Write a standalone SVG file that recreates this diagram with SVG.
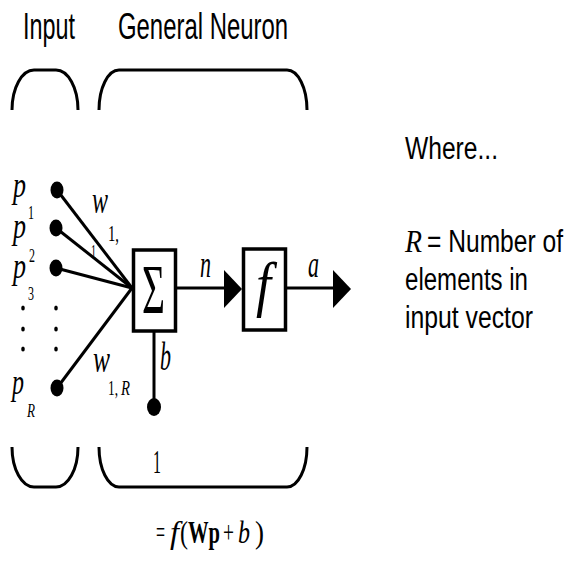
<svg xmlns="http://www.w3.org/2000/svg" width="566" height="562" viewBox="0 0 566 562">
<style>
.sans{font-family:"Liberation Sans",Arial,sans-serif;fill:#000}
.serif{font-family:"Liberation Serif","Times New Roman",serif;fill:#000}
.it{font-style:italic}
.bd{font-weight:bold}
.ln{stroke:#000;stroke-width:3;fill:none}
.br{stroke:#000;stroke-width:3;fill:none}
.box{stroke:#000;stroke-width:3.5;fill:#fff}
.dot{fill:#000}
</style>
<rect width="566" height="562" fill="#fff"/>
<g id="headers">
<text class="sans" x="23" y="39" font-size="36" textLength="52" lengthAdjust="spacingAndGlyphs">Input</text>
<text class="sans" x="118" y="39" font-size="36" textLength="170" lengthAdjust="spacingAndGlyphs">General Neuron</text>
</g>
<g id="brackets">
<path class="br" d="M12,110 A22,40 0 0 1 34,70 L56,70 A22,40 0 0 1 78,110"/>
<path class="br" d="M99,110 A20,40 0 0 1 119,70 L287,70 A20,40 0 0 1 307,110"/>
<path class="br" d="M12,447 A22,40 0 0 0 34,487 L56,487 A22,40 0 0 0 78,447"/>
<path class="br" d="M99,447 A20,40 0 0 0 119,487 L287,487 A20,40 0 0 0 307,447"/>
</g>
<g id="connectors">
<line class="ln" x1="57" y1="190" x2="132" y2="288"/>
<line class="ln" x1="56" y1="228" x2="132" y2="288"/>
<line class="ln" x1="56" y1="268" x2="132" y2="288"/>
<line class="ln" x1="57" y1="388" x2="132" y2="288"/>
<line class="ln" x1="177" y1="288" x2="228" y2="288"/>
<polygon points="224,270 242,289 224,308" fill="#000"/>
<line class="ln" x1="286" y1="288" x2="336" y2="288"/>
<polygon points="333,270 351,289 333,308" fill="#000"/>
<line class="ln" x1="154" y1="332" x2="154" y2="402"/>
</g>
<g id="inputs">
<ellipse class="dot" cx="57" cy="190" rx="6.5" ry="8.5"/>
<ellipse class="dot" cx="56" cy="228" rx="6.5" ry="8.5"/>
<ellipse class="dot" cx="56" cy="268" rx="6.5" ry="8.5"/>
<ellipse class="dot" cx="57" cy="388" rx="6.5" ry="8.5"/>
<ellipse class="dot" cx="23" cy="308" rx="1.8" ry="2.5"/>
<ellipse class="dot" cx="23" cy="329" rx="1.8" ry="2.5"/>
<ellipse class="dot" cx="23" cy="349" rx="1.8" ry="2.5"/>
<ellipse class="dot" cx="56" cy="308" rx="1.8" ry="2.5"/>
<ellipse class="dot" cx="56" cy="329" rx="1.8" ry="2.5"/>
<ellipse class="dot" cx="56" cy="349" rx="1.8" ry="2.5"/>
<text class="serif it" x="13" y="197" font-size="36" textLength="13" lengthAdjust="spacingAndGlyphs">p</text>
<text class="serif" x="28" y="219" font-size="18" textLength="6" lengthAdjust="spacingAndGlyphs">1</text>
<text class="serif it" x="13" y="238" font-size="36" textLength="13" lengthAdjust="spacingAndGlyphs">p</text>
<text class="serif" x="29" y="262" font-size="18" textLength="6" lengthAdjust="spacingAndGlyphs">2</text>
<text class="serif it" x="13" y="278" font-size="36" textLength="13" lengthAdjust="spacingAndGlyphs">p</text>
<text class="serif" x="28" y="300" font-size="18" textLength="6" lengthAdjust="spacingAndGlyphs">3</text>
<text class="serif it" x="12" y="394" font-size="36" textLength="12" lengthAdjust="spacingAndGlyphs">p</text>
<text class="serif it" x="27" y="417" font-size="18" textLength="8" lengthAdjust="spacingAndGlyphs">R</text>
</g>
<g id="weights">
<text class="serif it" x="92" y="213" font-size="38" textLength="16" lengthAdjust="spacingAndGlyphs">w</text>
<text class="serif" x="108" y="241" font-size="24" textLength="11" lengthAdjust="spacingAndGlyphs">1,</text>
<text class="serif" x="91" y="258" font-size="18" textLength="5" lengthAdjust="spacingAndGlyphs">1</text>
<text class="serif it" x="93" y="372" font-size="38" textLength="17" lengthAdjust="spacingAndGlyphs">w</text>
<text class="serif" x="108" y="395" font-size="20" textLength="10" lengthAdjust="spacingAndGlyphs">1,</text>
<text class="serif it" x="121" y="395" font-size="20" textLength="9" lengthAdjust="spacingAndGlyphs">R</text>
</g>
<g id="sum">
<rect class="box" x="133.5" y="250" width="42" height="81"/>
<text class="serif" x="142" y="313" font-size="70" textLength="23" lengthAdjust="spacingAndGlyphs">Σ</text>
</g>
<g id="bias">
<ellipse class="dot" cx="154" cy="407" rx="7" ry="9"/>
<text class="serif it" x="160" y="370" font-size="40" textLength="11" lengthAdjust="spacingAndGlyphs">b</text>
<text class="serif" x="153" y="473" font-size="34" textLength="8" lengthAdjust="spacingAndGlyphs">1</text>
</g>
<g id="transfer">
<rect class="box" x="243.5" y="249" width="42" height="81"/>
<text class="serif it" x="256" y="305" font-size="62" textLength="15" lengthAdjust="spacingAndGlyphs">f</text>
</g>
<g id="labels">
<text class="serif it" x="200" y="277" font-size="38" textLength="11" lengthAdjust="spacingAndGlyphs">n</text>
<text class="serif it" x="308" y="277" font-size="38" textLength="11" lengthAdjust="spacingAndGlyphs">a</text>
</g>
<g id="formula">
<text class="serif" x="156" y="543" font-size="32" textLength="9" lengthAdjust="spacingAndGlyphs">=</text>
<text class="serif it" x="170" y="543" font-size="32" textLength="9" lengthAdjust="spacingAndGlyphs">f</text>
<text class="serif" x="180" y="543" font-size="32" textLength="8" lengthAdjust="spacingAndGlyphs">(</text>
<text class="serif bd" x="188" y="543" font-size="32" textLength="32" lengthAdjust="spacingAndGlyphs">Wp</text>
<text class="serif" x="223" y="543" font-size="32" textLength="11" lengthAdjust="spacingAndGlyphs">+</text>
<text class="serif it" x="238" y="543" font-size="32" textLength="12" lengthAdjust="spacingAndGlyphs">b</text>
<text class="serif" x="255" y="543" font-size="32" textLength="9" lengthAdjust="spacingAndGlyphs">)</text>
</g>
<g id="legend">
<text class="sans" x="405" y="159" font-size="31" textLength="93" lengthAdjust="spacingAndGlyphs">Where...</text>
<text class="serif it" x="405" y="252" font-size="31" textLength="17" lengthAdjust="spacingAndGlyphs">R</text>
<text class="sans" x="427" y="252" font-size="31" textLength="136" lengthAdjust="spacingAndGlyphs">= Number of</text>
<text class="sans" x="405" y="290" font-size="31" textLength="123" lengthAdjust="spacingAndGlyphs">elements in</text>
<text class="sans" x="405" y="328" font-size="31" textLength="128" lengthAdjust="spacingAndGlyphs">input vector</text>
</g>
</svg>
